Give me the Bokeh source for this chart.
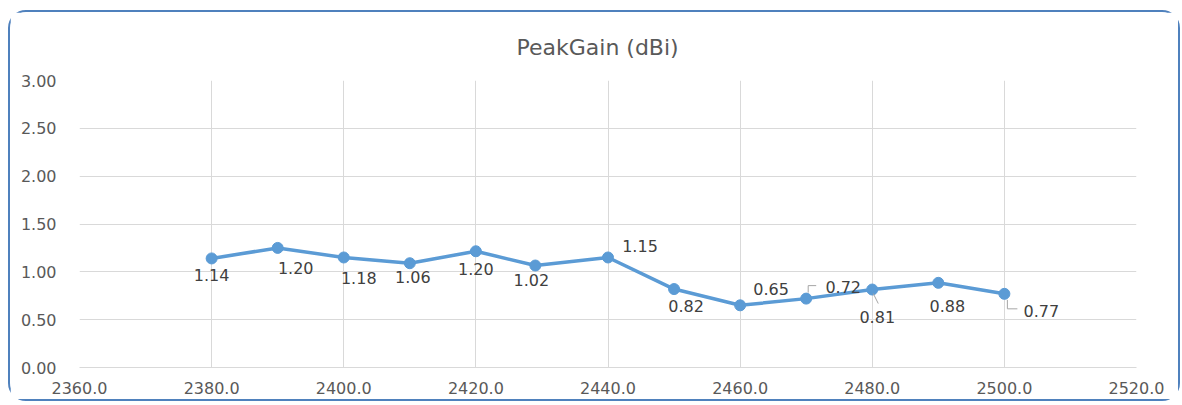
from bokeh.plotting import figure
from bokeh.models import ColumnDataSource, LabelSet, Title, FixedTicker, NumeralTickFormatter, Range1d
from bokeh.core.properties import value
from bokeh.embed import file_html
from bokeh.resources import INLINE

# ---- data ----
freq = [2380, 2390, 2400, 2410, 2420, 2429, 2440, 2450, 2460, 2470, 2480, 2490, 2500]
gain = [1.14, 1.25, 1.15, 1.09, 1.215, 1.066, 1.15, 0.82, 0.65, 0.72, 0.815, 0.885, 0.77]
gain_labels = ["1.14", "1.20", "1.18", "1.06", "1.20", "1.02", "1.15",
               "0.82", "0.65", "0.72", "0.81", "0.88", "0.77"]
x_ticks = [2360, 2380, 2400, 2420, 2440, 2460, 2480, 2500, 2520]
y_ticks = [0.0, 0.5, 1.0, 1.5, 2.0, 2.5, 3.0]
title_text = "PeakGain (dBi)"

# ---- styling (label placement offsets in screen px: dx right, dy down) ----
lab_dx = [0, 18, 15, 3, 0, -4, 32, 12, 31, 37, 5, 9, 37]
lab_dy = [17, 20, 21, 14, 18, 14, -11, 17, -16, -12, 27, 23, 17]

FONT = "DejaVu Sans"
W, H = 1172, 391
ML, MR, MT, MB = 69, 46, 68, 36
X0, X1, Y0, Y1 = 2360, 2520, 0.0, 3.0

p = figure(width=W, height=H, output_backend="svg", toolbar_location=None,
           x_range=Range1d(X0, X1), y_range=Range1d(Y0, Y1),
           min_border_left=ML, min_border_right=MR, min_border_top=MT, min_border_bottom=MB)
p.styles = {"border": "2px solid #4f81bd", "border-radius": "18px",
            "margin-left": "8px", "margin-top": "10px"}
p.background_fill_color = "white"
p.border_fill_color = "white"
p.outline_line_color = None

p.title = Title(text=title_text, align="left", offset=437, standoff=41,
                text_font=FONT, text_font_size="22px", text_font_style="normal",
                text_color="#595959")

for ax in (p.xaxis[0], p.yaxis[0]):
    ax.major_tick_line_color = None
    ax.minor_tick_line_color = None
    ax.major_label_text_font = FONT
    ax.major_label_text_font_size = "16px"
    ax.major_label_text_color = "#595959"
p.yaxis[0].axis_line_color = None
p.xaxis[0].axis_line_color = "#d9d9d9"
p.xaxis[0].major_label_standoff = 8
p.yaxis[0].major_label_standoff = 17
p.xaxis[0].ticker = FixedTicker(ticks=x_ticks)
p.yaxis[0].ticker = FixedTicker(ticks=y_ticks)
p.xaxis[0].formatter = NumeralTickFormatter(format="0.0")
p.yaxis[0].formatter = NumeralTickFormatter(format="0.00")
p.xgrid.grid_line_color = "#d9d9d9"
p.ygrid.grid_line_color = "#d9d9d9"

src = ColumnDataSource(dict(x=freq, y=gain, t=gain_labels,
                            dx=lab_dx, dy=[-d for d in lab_dy]))
p.line("x", "y", source=src, line_color="#5b9bd5", line_width=3.5)
p.scatter("x", "y", source=src, size=11, fill_color="#5b9bd5", line_color="#5b9bd5")

labels = LabelSet(x="x", y="y", text="t", source=src, x_offset="dx", y_offset="dy",
                  text_align="center", text_baseline="middle",
                  text_font=value(FONT), text_font_size="16px", text_color="#404040")
p.add_layout(labels)

# leader lines for a few labels (converted from px offsets to data units)
fw = W - ML - MR
fh = H - MT - MB
sx = (X1 - X0) / fw
sy = (Y1 - Y0) / fh
leaders = {9: [(2, -6), (2, -13), (10, -13)],
           10: [(1, 4), (6, 14)],
           12: [(3, 6), (3, 15), (13, 15)]}
for i, pts in leaders.items():
    xs = [freq[i] + a * sx for a, b in pts]
    ys = [gain[i] - b * sy for a, b in pts]
    p.line(xs, ys, line_color="#a6a6a6", line_width=1)

open("out.html", "w").write(file_html(p, INLINE))
